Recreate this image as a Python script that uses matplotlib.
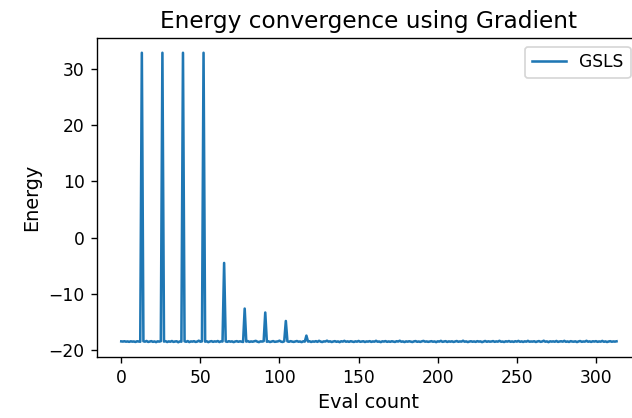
import matplotlib
matplotlib.use("Agg")
import matplotlib.pyplot as plt

# energy per evaluation (13 evals per row)
energy_rows = [
    [-18.42, -18.45, -18.40, -18.47, -18.43, -18.50, -18.41, -18.46, -18.44, -18.52, -18.40, -18.45, -18.48],
    [32.80, -18.40, -18.47, -18.35, -18.52, -18.44, -18.38, -18.50, -18.43, -18.55, -18.41, -18.46, -18.39],
    [32.80, -18.45, -18.38, -18.53, -18.42, -18.48, -18.36, -18.51, -18.44, -18.40, -18.57, -18.43, -18.47],
    [32.80, -18.41, -18.49, -18.37, -18.54, -18.43, -18.46, -18.39, -18.52, -18.45, -18.30, -18.48, -18.42],
    [32.80, -18.47, -18.40, -18.55, -18.44, -18.38, -18.50, -18.42, -18.46, -18.36, -18.53, -18.41, -18.45],
    [-4.50, -18.43, -18.50, -18.39, -18.47, -18.42, -18.55, -18.44, -18.38, -18.49, -18.41, -18.46, -18.52],
    [-12.60, -18.46, -18.37, -18.51, -18.43, -18.48, -18.40, -18.33, -18.47, -18.55, -18.42, -18.45, -18.39],
    [-13.30, -18.48, -18.41, -18.53, -18.44, -18.37, -18.50, -18.45, -18.42, -18.30, -18.47, -18.52, -18.40],
    [-14.80, -18.42, -18.49, -18.38, -18.46, -18.51, -18.43, -18.36, -18.48, -18.44, -18.55, -18.41, -18.46],
    [-17.40, -18.45, -18.40, -18.52, -18.43, -18.47, -18.38, -18.50, -18.32, -18.46, -18.53, -18.42, -18.44],
    [-18.30, -18.47, -18.41, -18.53, -18.44, -18.38, -18.49, -18.43, -18.55, -18.40, -18.46, -18.33, -18.48],
    [-18.42, -18.50, -18.39, -18.45, -18.52, -18.41, -18.47, -18.35, -18.49, -18.44, -18.40, -18.53, -18.43],
    [-18.46, -18.38, -18.51, -18.43, -18.47, -18.32, -18.48, -18.44, -18.55, -18.41, -18.45, -18.37, -18.50],
    [-18.43, -18.49, -18.40, -18.46, -18.52, -18.39, -18.45, -18.31, -18.48, -18.43, -18.54, -18.42, -18.47],
    [-18.40, -18.46, -18.53, -18.42, -18.37, -18.49, -18.44, -18.51, -18.41, -18.34, -18.47, -18.43, -18.50],
    [-18.45, -18.39, -18.48, -18.43, -18.55, -18.41, -18.46, -18.33, -18.50, -18.44, -18.38, -18.52, -18.42],
    [-18.47, -18.41, -18.52, -18.44, -18.36, -18.49, -18.43, -18.46, -18.31, -18.48, -18.42, -18.54, -18.45],
    [-18.40, -18.48, -18.43, -18.51, -18.38, -18.46, -18.42, -18.55, -18.44, -18.35, -18.49, -18.41, -18.47],
    [-18.44, -18.37, -18.50, -18.42, -18.47, -18.32, -18.48, -18.45, -18.53, -18.40, -18.46, -18.36, -18.49],
    [-18.43, -18.51, -18.39, -18.46, -18.34, -18.49, -18.42, -18.52, -18.41, -18.47, -18.33, -18.48, -18.44],
    [-18.46, -18.40, -18.53, -18.43, -18.37, -18.50, -18.44, -18.31, -18.48, -18.42, -18.55, -18.41, -18.46],
    [-18.42, -18.48, -18.35, -18.51, -18.44, -18.40, -18.47, -18.33, -18.49, -18.43, -18.52, -18.38, -18.45],
    [-18.47, -18.41, -18.54, -18.43, -18.36, -18.49, -18.44, -18.46, -18.32, -18.48, -18.42, -18.51, -18.40],
    [-18.45, -18.38, -18.50, -18.43, -18.47, -18.34, -18.49, -18.42, -18.53, -18.44, -18.39, -18.48, -18.43],
]
energy_tail = [-18.46, -18.41]
series_label = "GSLS"

energy = [e for row in energy_rows for e in row] + energy_tail
evals = list(range(len(energy)))

dpi = 123
fig = plt.figure(figsize=(632 / dpi, 418 / dpi), dpi=dpi)
ax = fig.add_axes([96.5 / 632, 61.3 / 418, 544.8 / 632, 318.4 / 418])

ax.plot(evals, energy, label=series_label)
ax.set_title("Energy convergence using Gradient", fontsize=13.6)
ax.set_xlabel("Eval count", fontsize=11.3)
ax.set_ylabel("Energy", fontsize=11.3)
ax.legend(loc="upper right", bbox_to_anchor=(0.9805, 0.974), borderaxespad=0)

fig.savefig("out.png", dpi=dpi)
